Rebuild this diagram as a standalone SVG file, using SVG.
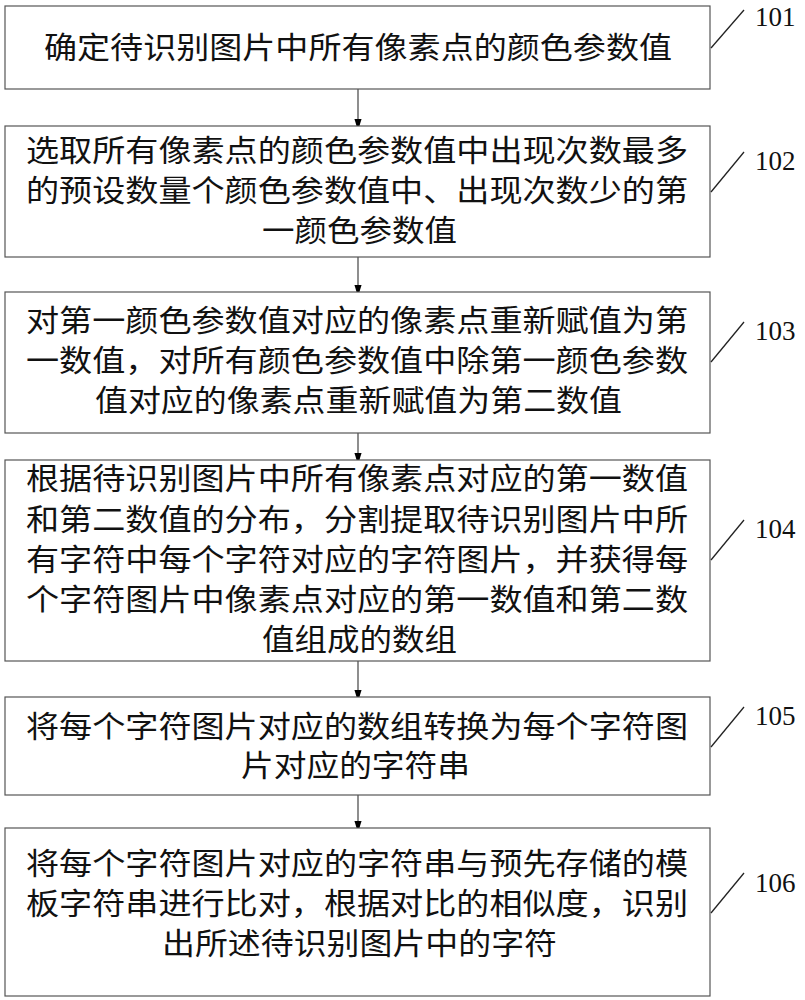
<svg xmlns="http://www.w3.org/2000/svg" width="805" height="1000" viewBox="0 0 805 1000">
<defs>
<marker id="ah" markerWidth="12" markerHeight="20" refX="12" refY="6" orient="auto" markerUnits="userSpaceOnUse" viewBox="0 0 20 12"><path d="M0,0 L20,6 L0,12 Z" fill="#000"/></marker>
<style>
.box{fill:#fff;stroke:#555;stroke-width:1.2}
.t{font-family:"Liberation Serif","Noto Sans CJK SC",serif;font-size:30px;fill:#111}
.lab{font-family:"Liberation Serif",serif;font-size:27px;fill:#111}
.ld{stroke:#222;stroke-width:1.3;fill:none}
.cn{stroke:#444;stroke-width:1.2;fill:none}
</style>
</defs>
<rect width="805" height="1000" fill="#fff"/>
<g id="connectors">
<line class="cn" x1="358" y1="89" x2="358" y2="126" marker-end="url(#ah)"/>
<line class="cn" x1="358" y1="257" x2="358" y2="292" marker-end="url(#ah)"/>
<line class="cn" x1="358" y1="433" x2="358" y2="460" marker-end="url(#ah)"/>
<line class="cn" x1="358" y1="661" x2="358" y2="697" marker-end="url(#ah)"/>
<line class="cn" x1="358" y1="795" x2="358" y2="828" marker-end="url(#ah)"/>
</g>
<g id="n101">
<rect class="box" x="5" y="6" width="705" height="83"/>
<text class="t" x="44" y="58" textLength="628" lengthAdjust="spacingAndGlyphs">确定待识别图片中所有像素点的颜色参数值</text>
<line class="ld" x1="711" y1="48" x2="744" y2="10"/>
<text class="lab" x="755" y="26">101</text>
</g>
<g id="n102">
<rect class="box" x="5" y="126" width="705" height="131"/>
<text class="t" x="26" y="161" textLength="662" lengthAdjust="spacingAndGlyphs">选取所有像素点的颜色参数值中出现次数最多</text>
<text class="t" x="26" y="201" textLength="662" lengthAdjust="spacingAndGlyphs">的预设数量个颜色参数值中、出现次数少的第</text>
<text class="t" x="262" y="241" textLength="195" lengthAdjust="spacingAndGlyphs">一颜色参数值</text>
<line class="ld" x1="711" y1="192" x2="744" y2="152"/>
<text class="lab" x="755" y="170">102</text>
</g>
<g id="n103">
<rect class="box" x="5" y="292" width="705" height="141"/>
<text class="t" x="26" y="331" textLength="662" lengthAdjust="spacingAndGlyphs">对第一颜色参数值对应的像素点重新赋值为第</text>
<text class="t" x="26" y="371" textLength="662" lengthAdjust="spacingAndGlyphs">一数值，对所有颜色参数值中除第一颜色参数</text>
<text class="t" x="95" y="411" textLength="527" lengthAdjust="spacingAndGlyphs">值对应的像素点重新赋值为第二数值</text>
<line class="ld" x1="711" y1="362" x2="744" y2="322"/>
<text class="lab" x="755" y="340">103</text>
</g>
<g id="n104">
<rect class="box" x="5" y="460" width="705" height="201"/>
<text class="t" x="26" y="489" textLength="662" lengthAdjust="spacingAndGlyphs">根据待识别图片中所有像素点对应的第一数值</text>
<text class="t" x="26" y="530" textLength="662" lengthAdjust="spacingAndGlyphs">和第二数值的分布，分割提取待识别图片中所</text>
<text class="t" x="26" y="570" textLength="662" lengthAdjust="spacingAndGlyphs">有字符中每个字符对应的字符图片，并获得每</text>
<text class="t" x="26" y="610" textLength="662" lengthAdjust="spacingAndGlyphs">个字符图片中像素点对应的第一数值和第二数</text>
<text class="t" x="262" y="650" textLength="195" lengthAdjust="spacingAndGlyphs">值组成的数组</text>
<line class="ld" x1="711" y1="560" x2="744" y2="520"/>
<text class="lab" x="755" y="538">104</text>
</g>
<g id="n105">
<rect class="box" x="5" y="697" width="705" height="98"/>
<text class="t" x="26" y="737" textLength="662" lengthAdjust="spacingAndGlyphs">将每个字符图片对应的数组转换为每个字符图</text>
<text class="t" x="241" y="776" textLength="229" lengthAdjust="spacingAndGlyphs">片对应的字符串</text>
<line class="ld" x1="711" y1="747" x2="744" y2="707"/>
<text class="lab" x="755" y="725">105</text>
</g>
<g id="n106">
<rect class="box" x="5" y="828" width="705" height="168"/>
<text class="t" x="26" y="874" textLength="662" lengthAdjust="spacingAndGlyphs">将每个字符图片对应的字符串与预先存储的模</text>
<text class="t" x="26" y="914" textLength="662" lengthAdjust="spacingAndGlyphs">板字符串进行比对，根据对比的相似度，识别</text>
<text class="t" x="162" y="954" textLength="395" lengthAdjust="spacingAndGlyphs">出所述待识别图片中的字符</text>
<line class="ld" x1="711" y1="913" x2="744" y2="873"/>
<text class="lab" x="755" y="892">106</text>
</g>
</svg>
